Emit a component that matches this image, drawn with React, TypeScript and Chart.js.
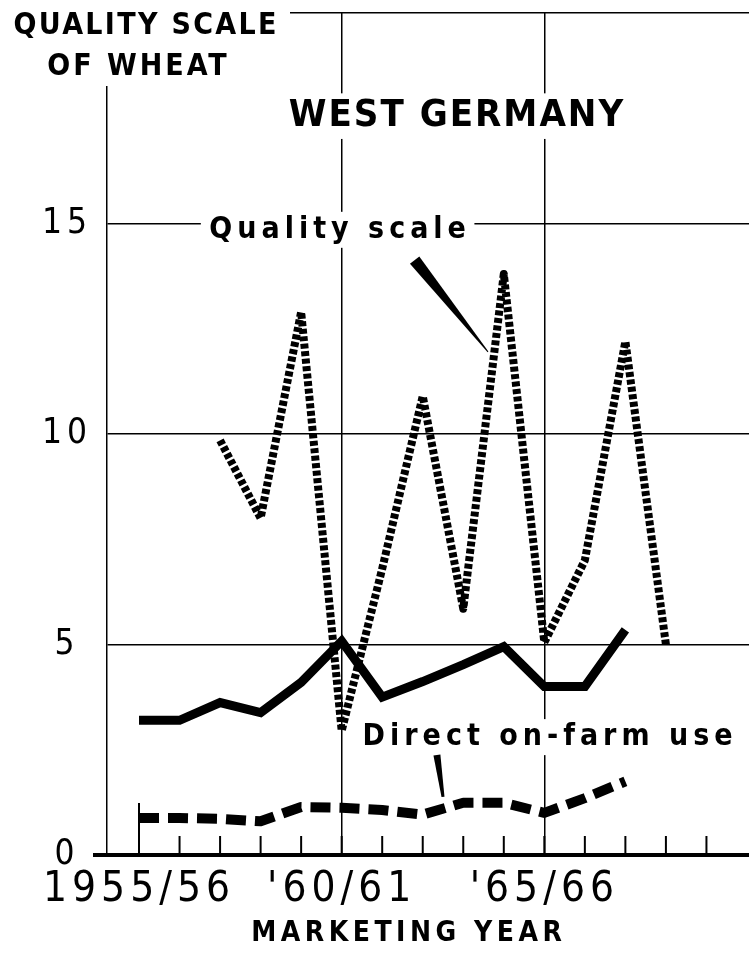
import React, { useEffect, useRef } from 'react';
import { Chart, registerables } from 'chart.js';

Chart.register(...registerables);

// ---------- data ----------
const YEAR_TICKS = [1955, 1956, 1957, 1958, 1959, 1960, 1961, 1962, 1963, 1964, 1965, 1966, 1967, 1968, 1969];
const YEAR_LABELS: Record<number, string> = { 1955: '1955/56', 1960: "'60/61", 1965: "'65/66" };
const Y_TICK_VALUES = [0, 5, 10, 15, 20];

const QUALITY_YEARS = [1957, 1958, 1959, 1960, 1961, 1962, 1963, 1964, 1965, 1966, 1967, 1968];
const QUALITY_VALUES = [9.85, 8.0, 12.9, 2.95, 6.8, 10.9, 5.85, 13.8, 5.05, 7.0, 12.2, 5.0];

const SOLID_YEARS = [1955, 1956, 1957, 1958, 1959, 1960, 1961, 1962, 1963, 1964, 1965, 1966, 1967];
const SOLID_VALUES = [3.2, 3.2, 3.62, 3.38, 4.1, 5.08, 3.75, 4.12, 4.52, 4.95, 4.0, 4.0, 5.35];

const FARM_YEARS = [1955, 1956, 1957, 1958, 1959, 1960, 1961, 1962, 1963, 1964, 1965, 1966, 1967];
const FARM_VALUES = [0.88, 0.88, 0.86, 0.8, 1.14, 1.12, 1.07, 0.96, 1.24, 1.24, 1.0, 1.35, 1.75];

// annotation anchors in data units
const TITLE_TEXT = 'WEST GERMANY';
const TITLE_POS = { x: 1962.82, y: 17.55 };
const QUALITY_LABEL_TEXT = 'Quality scale';
const QUALITY_LABEL_POS = { x: 1959.9, y: 14.85 };
const FARM_LABEL_TEXT = 'Direct on-farm use';
const FARM_LABEL_POS = { x: 1965.08, y: 2.8 };
const QUALITY_LEADER = { from: { x: 1961.8, y: 14.13 }, to: { x: 1963.61, y: 11.95 } };
const FARM_LEADER = { from: { x: 1962.35, y: 2.375 }, to: { x: 1962.5, y: 1.38 } };
const Y_TITLE_LINES = ['QUALITY SCALE', 'OF WHEAT'];
const X_TITLE_TEXT = 'MARKETING YEAR';

const FONT = '"DejaVu Sans Condensed", "DejaVu Sans", sans-serif';

function toPoints(xs: number[], ys: number[]) {
  return xs.map((x, i) => ({ x, y: ys[i] }));
}

function drawBoxedText(ctx: any, text: string, cx: number, cy: number, font: string, size: number, spacing: number, pad: number, box = true) {
  ctx.save();
  ctx.font = font;
  ctx.letterSpacing = spacing + 'px';
  ctx.textAlign = 'center';
  ctx.textBaseline = 'middle';
  const w = ctx.measureText(text).width;
  if (box) {
    ctx.fillStyle = '#fff';
    ctx.fillRect(cx - w / 2 - pad, cy - size * 0.6, w + 2 * pad, size * 1.2);
  }
  ctx.fillStyle = '#000';
  ctx.fillText(text, cx + spacing / 2, cy);
  ctx.restore();
  return w;
}

function drawWedge(ctx: any, x1: number, y1: number, x2: number, y2: number, w1: number, w2: number) {
  const dx = x2 - x1;
  const dy = y2 - y1;
  const len = Math.hypot(dx, dy) || 1;
  const nx = -dy / len;
  const ny = dx / len;
  ctx.save();
  ctx.fillStyle = '#000';
  ctx.beginPath();
  ctx.moveTo(x1 + nx * w1 / 2, y1 + ny * w1 / 2);
  ctx.lineTo(x2 + nx * w2 / 2, y2 + ny * w2 / 2);
  ctx.lineTo(x2 - nx * w2 / 2, y2 - ny * w2 / 2);
  ctx.lineTo(x1 - nx * w1 / 2, y1 - ny * w1 / 2);
  ctx.closePath();
  ctx.fill();
  ctx.restore();
}

const spacingPlugin = {
  id: 'letterSpacing',
  beforeLayout(chart: any) {
    chart.ctx.letterSpacing = '5px';
  },
  beforeDraw(chart: any) {
    chart.ctx.letterSpacing = '5px';
  },
};

const annotationPlugin = {
  id: 'annotations',
  beforeDatasetsDraw(chart: any) {
    const { ctx, chartArea } = chart;
    const xs = chart.scales.x;
    ctx.save();
    ctx.strokeStyle = '#000';
    ctx.lineWidth = 2;
    xs.ticks.forEach((t: any, i: number) => {
      const px = xs.getPixelForValue(t.value);
      const len = i === 0 ? 52 : 19;
      ctx.beginPath();
      ctx.moveTo(px, chartArea.bottom);
      ctx.lineTo(px, chartArea.bottom - len);
      ctx.stroke();
    });
    ctx.restore();
  },
  afterDatasetsDraw(chart: any) {
    const { ctx, chartArea } = chart;
    const xs = chart.scales.x;
    const ys = chart.scales.y;
    const P = (p: { x: number; y: number }) => ({ x: xs.getPixelForValue(p.x), y: ys.getPixelForValue(p.y) });

    // y-axis title with white backing
    ctx.save();
    ctx.fillStyle = '#fff';
    ctx.fillRect(0, 0, 290, chartArea.top + 73);
    ctx.restore();
    drawBoxedText(ctx, Y_TITLE_LINES[0], 145, 26, `bold 30px ${FONT}`, 30, 2.3, 0, false);
    drawBoxedText(ctx, Y_TITLE_LINES[1], 137, 67, `bold 30px ${FONT}`, 30, 3, 0, false);

    // chart title
    const t = P(TITLE_POS);
    drawBoxedText(ctx, TITLE_TEXT, t.x, t.y, `bold 38px ${FONT}`, 38, 2, 6);

    // series labels
    const q = P(QUALITY_LABEL_POS);
    drawBoxedText(ctx, QUALITY_LABEL_TEXT, q.x, q.y, `bold 30px ${FONT}`, 30, 5, 6);
    const f = P(FARM_LABEL_POS);
    drawBoxedText(ctx, FARM_LABEL_TEXT, f.x, f.y, `bold 30px ${FONT}`, 30, 5, 6);

    // leaders
    const a1 = P(QUALITY_LEADER.from), a2 = P(QUALITY_LEADER.to);
    drawWedge(ctx, a1.x, a1.y, a2.x, a2.y, 12, 1);
    const b1 = P(FARM_LEADER.from), b2 = P(FARM_LEADER.to);
    drawWedge(ctx, b1.x, b1.y, b2.x, b2.y, 7, 3);

    // x-axis title
    drawBoxedText(ctx, X_TITLE_TEXT, xs.getPixelForValue(1961.6), chartArea.bottom + 79, `bold 28px ${FONT}`, 28, 4.5, 0, false);
  },
};

export default function App() {
  const canvasRef = useRef<HTMLCanvasElement | null>(null);

  useEffect(() => {
    if (!canvasRef.current) return;
    const chart = new Chart(canvasRef.current, {
      type: 'line',
      data: {
        datasets: [
          {
            label: 'Direct on-farm use',
            data: toPoints(FARM_YEARS, FARM_VALUES),
            borderColor: '#000',
            borderWidth: 10,
            borderDash: [20, 9],
            borderCapStyle: 'butt',
            borderJoinStyle: 'round',
            pointRadius: 0,
            fill: false,
          },
          {
            label: 'Quality scale',
            data: toPoints(QUALITY_YEARS, QUALITY_VALUES),
            borderColor: '#000',
            borderWidth: 8,
            borderDash: [5, 2.5],
            borderCapStyle: 'butt',
            borderJoinStyle: 'round',
            pointRadius: 0,
            fill: false,
          },
          {
            label: 'Index',
            data: toPoints(SOLID_YEARS, SOLID_VALUES),
            borderColor: '#000',
            borderWidth: 9,
            borderCapStyle: 'butt',
            borderJoinStyle: 'miter',
            pointRadius: 0,
            fill: false,
          },
        ],
      },
      options: {
        animation: false,
        responsive: false,
        devicePixelRatio: 1,
        layout: { padding: { top: 13, left: 0, right: 0, bottom: 0 } },
        plugins: {
          legend: { display: false },
          tooltip: { enabled: false },
          title: { display: false },
        },
        scales: {
          x: {
            type: 'linear',
            min: 1954.21,
            max: 1970.05,
            afterBuildTicks: (scale: any) => {
              scale.ticks = YEAR_TICKS.map((v) => ({ value: v }));
            },
            afterFit: (scale: any) => {
              scale.height = 114;
              scale.paddingLeft = 0;
              scale.paddingRight = 0;
            },
            ticks: {
              autoSkip: false,
              maxRotation: 0,
              minRotation: 0,
              padding: 10,
              color: '#000',
              font: { family: FONT, size: 42 },
              callback: (v: any) => YEAR_LABELS[v as number] ?? '',
            },
            grid: {
              drawTicks: false,
              lineWidth: 1.5,
              color: (c: any) => (c.tick && (c.tick.value === 1960 || c.tick.value === 1965) ? '#000' : 'rgba(0,0,0,0)'),
            },
            border: { display: true, color: '#000', width: 4 },
          },
          y: {
            type: 'linear',
            min: 0,
            max: 20,
            afterBuildTicks: (scale: any) => {
              scale.ticks = Y_TICK_VALUES.map((v) => ({ value: v }));
            },
            afterFit: (scale: any) => {
              scale.width = 107;
              scale.paddingTop = 0;
              scale.paddingBottom = 0;
            },
            ticks: {
              crossAlign: 'center',
              padding: 1,
              color: '#000',
              font: { family: FONT, size: 35 },
              callback: (v: any) => (v === 20 ? '' : String(v)),
            },
            grid: {
              drawTicks: true,
              tickLength: 14,
              tickWidth: 4,
              tickColor: (c: any) => (c.tick && c.tick.value === 0 ? '#000' : 'rgba(0,0,0,0)'),
              color: '#000',
              lineWidth: (c: any) => (c.tick && c.tick.value === 0 ? 4 : 1.5),
            },
            border: { display: true, color: '#000', width: 1.5 },
          },
        },
      } as any,
      plugins: [spacingPlugin, annotationPlugin] as any,
    });
    return () => chart.destroy();
  }, []);

  return (
    <div style={{ position: 'absolute', left: 0, top: 0, width: 749, height: 969, background: '#fff' }}>
      <canvas ref={canvasRef} width={749} height={969} style={{ display: 'block', width: 749, height: 969 }} />
    </div>
  );
}
